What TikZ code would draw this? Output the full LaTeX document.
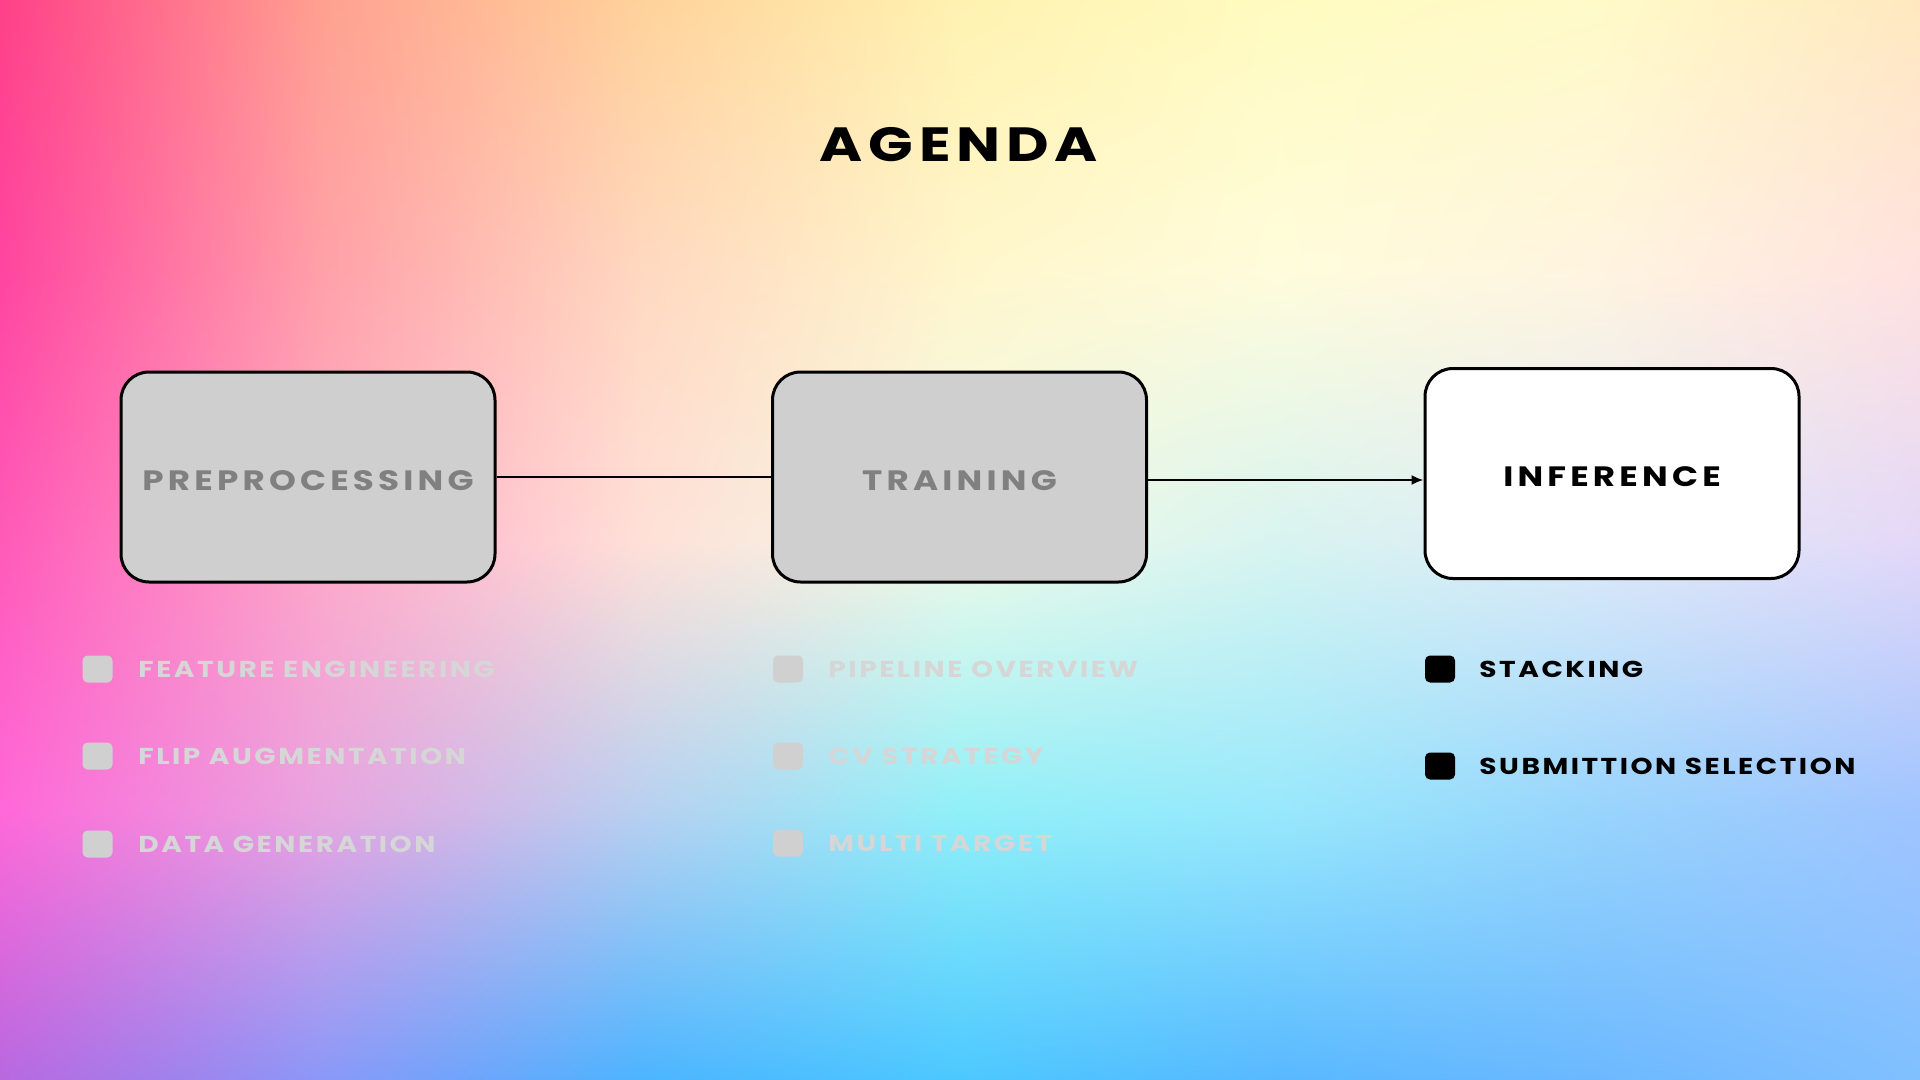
\documentclass[tikz,border=0pt]{standalone}
\usepackage{fontspec}
\setmainfont{Poppins}
\newfontfamily\titlefont{Poppins}[FakeStretch=1.22,LetterSpace=12]
\newfontfamily\boxfont{Poppins}[FakeStretch=1.22,LetterSpace=15]
\newfontfamily\itemfont{Poppins}[FakeStretch=1.22,LetterSpace=11]
\usetikzlibrary{arrows.meta,shadings}
% background colour samples (rows top->bottom, columns left->right)
\definecolor{a0}{HTML}{FF4088}\definecolor{a1}{HTML}{FFA090}\definecolor{a2}{HTML}{FFD29A}\definecolor{a3}{HTML}{FFF2B0}\definecolor{a4}{HTML}{FFFBC0}\definecolor{a5}{HTML}{FFFAC8}\definecolor{a6}{HTML}{FFE8C0}
\definecolor{b0}{HTML}{FF45A0}\definecolor{b1}{HTML}{FFA0A8}\definecolor{b2}{HTML}{FFD8C0}\definecolor{b3}{HTML}{FFF6CC}\definecolor{b4}{HTML}{FFFCDC}\definecolor{b5}{HTML}{FFF4E0}\definecolor{b6}{HTML}{FFE2E0}
\definecolor{c0}{HTML}{FF5AB8}\definecolor{c1}{HTML}{FFA8C8}\definecolor{c2}{HTML}{FFE0D8}\definecolor{c3}{HTML}{F0FAE8}\definecolor{c4}{HTML}{D8F4F0}\definecolor{c5}{HTML}{E0EAF8}\definecolor{c6}{HTML}{E4D8F8}
\definecolor{d0}{HTML}{FF68D8}\definecolor{d1}{HTML}{E8A4E0}\definecolor{d2}{HTML}{B8D0F0}\definecolor{d3}{HTML}{90F0F8}\definecolor{d4}{HTML}{98E8FC}\definecolor{d5}{HTML}{98D4FC}\definecolor{d6}{HTML}{A0C4FF}
\definecolor{e0}{HTML}{B868E0}\definecolor{e1}{HTML}{8A98F8}\definecolor{e2}{HTML}{4CB4FF}\definecolor{e3}{HTML}{4CC8FF}\definecolor{e4}{HTML}{58B8FF}\definecolor{e5}{HTML}{6CB8FF}\definecolor{e6}{HTML}{80C0FF}
\definecolor{boxgray}{HTML}{CFCFCF}
\definecolor{boxtext}{HTML}{808080}
\definecolor{dimtext}{HTML}{D6D6D6}
\definecolor{dimsq}{HTML}{D0D0D0}
\newcommand\bgcell[8]{\shade[upper left=#5,upper right=#6,lower left=#7,lower right=#8] (#1,#2) rectangle (#3,#4);}
\begin{document}
\begin{tikzpicture}[x=0.5pt,y=-0.5pt,
  stagebox/.style={draw=black, line width=1.5pt, rounded corners=14pt,
    minimum width=187pt, minimum height=105pt, inner sep=0pt,
    text height=13pt, text depth=0pt,
    font=\boxfont\fontsize{14}{16}\selectfont\bfseries},
  donebox/.style={stagebox, fill=boxgray, text=boxtext},
  nowbox/.style={stagebox, fill=white, text=black},
  bulletsq/.style={minimum width=15pt, minimum height=13.5pt, inner sep=0pt, rounded corners=2.5pt},
  dimsquare/.style={bulletsq, fill=dimsq},
  activesquare/.style={bulletsq, fill=black},
  itemtext/.style={anchor=west, inner sep=0pt, font=\itemfont\fontsize{11.5}{13}\selectfont\bfseries},
  dimitem/.style={itemtext, text=dimtext},
  activeitem/.style={itemtext, text=black},
  link/.style={line width=1pt, draw=black}
]
\useasboundingbox (0,0) rectangle (1920,1080);
% background
\foreach \ya/\yb/\ra/\rb in {0/270/a/b, 270/540/b/c, 540/810/c/d, 810/1080/d/e}{
  \foreach \xa/\xb/\ca/\cb in {0/320/0/1, 320/640/1/2, 640/960/2/3, 960/1280/3/4, 1280/1600/4/5, 1600/1920/5/6}{
    \edef\tmp{\noexpand\bgcell{\xa}{\ya}{\xb+0.6}{\yb+0.6}{\ra\ca}{\ra\cb}{\rb\ca}{\rb\cb}}\tmp
  }
}
% title
\node[font=\titlefont\fontsize{24}{28}\selectfont\bfseries, inner sep=0pt] (title) at (959,144.5) {AGENDA};
% stages
\node[donebox] (pre) at (308,477) {PREPROCESSING};
\node[donebox] (train) at (959.5,477) {TRAINING};
\node[nowbox] (infer) at (1612,473.5) {INFERENCE};
\draw[link] (pre.east) -- (train.west);
\draw[link, -{Latex[length=6pt,width=5pt]}] ([yshift=-1.5pt]train.east) -- ([yshift=-1.5pt]train.east -| infer.west);
% preprocessing items
\node[dimsquare] (s1) at (97.5,669) {};
\node[dimitem] (t1) at (138,669) {FEATURE ENGINEERING};
\node[dimsquare] (s2) at (97.5,756) {};
\node[dimitem] (t2) at (138,756) {FLIP AUGMENTATION};
\node[dimsquare] (s3) at (97.5,844) {};
\node[dimitem] (t3) at (138,844) {DATA GENERATION};
% training items
\node[dimsquare] (s4) at (788,669) {};
\node[dimitem] (t4) at (828,669) {PIPELINE OVERVIEW};
\node[dimsquare] (s5) at (788,756) {};
\node[dimitem] (t5) at (828,756) {CV STRATEGY};
\node[dimsquare] (s6) at (788,843) {};
\node[dimitem] (t6) at (828,843) {MULTI TARGET};
% inference items
\node[activesquare] (s7) at (1440,669) {};
\node[activeitem] (t7) at (1479,669) {STACKING};
\node[activesquare] (s8) at (1440,766) {};
\node[activeitem] (t8) at (1479,766) {SUBMITTION SELECTION};
\end{tikzpicture}
\end{document}
